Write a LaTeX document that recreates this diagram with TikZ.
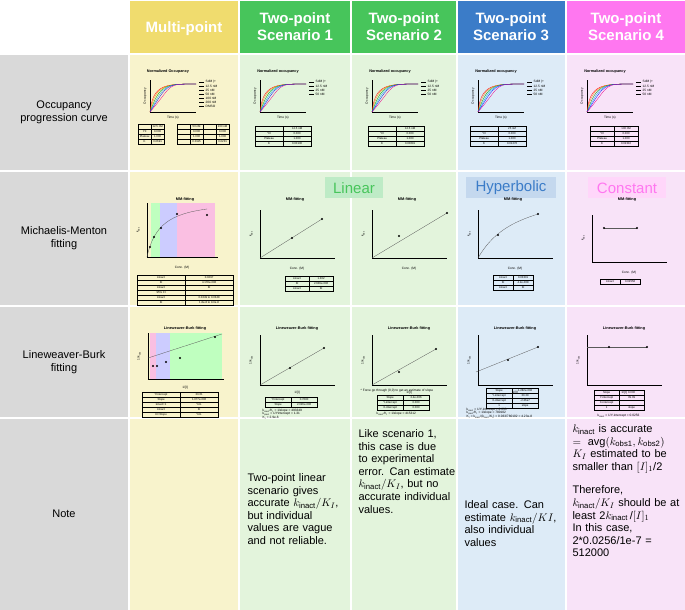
\documentclass[tikz,border=0pt]{standalone}
\usepackage{fontspec}
\setmainfont{Liberation Sans}
\usepackage{amsmath}
\begin{document}
\begin{tikzpicture}[x=1pt,y=-1pt,
  hdr/.style={text=white,font=\bfseries\fontsize{15}{17}\selectfont,align=center},
  lab/.style={font=\fontsize{11}{13}\selectfont,align=center},
  note/.style={font=\fontsize{11}{12.6}\selectfont,align=left,anchor=north west,text width=100pt,execute at begin node={\hyphenpenalty=10000\exhyphenpenalty=10000}},
  tiny/.style={font=\fontsize{3.2}{3.6}\selectfont,inner sep=0.5pt},
  ttl/.style={font=\bfseries\fontsize{3.8}{4}\selectfont,inner sep=0pt},
  ax/.style={line width=0.35pt},
  fit/.style={line width=0.3pt,gray!70!black},
  tc/.style={draw,line width=0.25pt,font=\fontsize{2.8}{3}\selectfont,minimum height=5pt,inner sep=0.3pt,anchor=north west,text depth=0pt,text height=2pt}
]
\definecolor{cY}{HTML}{F0DC6E}\definecolor{cG}{HTML}{47C55B}
\definecolor{cB}{HTML}{3B7CC8}\definecolor{cP}{HTML}{FF77F0}
\definecolor{lY}{HTML}{F8F3CC}\definecolor{lG}{HTML}{E3F4DC}
\definecolor{lB}{HTML}{DDEBF7}\definecolor{lP}{HTML}{F8E3F8}
\definecolor{lGr}{HTML}{D9D9D9}
\newcommand\tbl[4]{\foreach[count=\ti] \ta/\tb in {#4}{%
  \node[tc,minimum width=#3pt] at ({#1},{#2+5*(\ti-1)}) {\ta};
  \node[tc,minimum width=#3pt] at ({#1+#3},{#2+5*(\ti-1)}) {\tb};}}
\useasboundingbox (0,0) rectangle (685,610);
\fill[white] (0,0) rectangle (685,610);
% grid backgrounds
\foreach \x/\w/\h/\l in {130/108/cY/lY,240/110/cG/lG,352/104/cG/lG,458/107/cB/lB,567/118/cP/lP}{
  \fill[\h] (\x,1) rectangle ++(\w,52);
  \foreach \y/\hh in {55/115,172/133,307/110,419/191} \fill[\l] (\x,\y) rectangle ++(\w,\hh);
}
\foreach \y/\hh in {55/115,172/133,307/110,419/191} \fill[lGr] (0,\y) rectangle ++(128,\hh);
% headers
\node[hdr] (h0) at (184,29) {Multi-point};
\node[hdr] (h1) at (295,27) {Two-point\\Scenario 1};
\node[hdr] (h2) at (404,27) {Two-point\\Scenario 2};
\node[hdr] (h3) at (511,27) {Two-point\\Scenario 3};
\node[hdr] (h4) at (626,27) {Two-point\\Scenario 4};
% row labels
\node[lab] (r1) at (64,112) {Occupancy\\progression curve};
\node[lab] (r2) at (64,238) {Michaelis-Menton\\fitting};
\node[lab] (r3) at (64,362) {Lineweaver-Burk\\fitting};
\node[lab] (r4) at (64,514) {Note};
% category labels
\fill[cG!35] (325,177) rectangle (383,198);
\node[text=cG,font=\fontsize{15}{16}\selectfont] (lin) at (354,188) {Linear};
\fill[cB!30] (466,177) rectangle (556,198);
\node[text=cB,font=\fontsize{15}{16}\selectfont] (hyp) at (511,188) {Hyperbolic};
\fill[cP!30] (588,177) rectangle (666,198);
\node[text=cP,font=\fontsize{15}{16}\selectfont] (con) at (627,188) {Constant};
% ---------- Row 1: occupancy ----------
\newcommand\occ[3]{\begin{scope}[shift={(#1,0)}]
 \node[ttl] at (38,72) {#2};
 \draw[ax] (20,80) -- (20,112) -- (66,112);
 \foreach \c/\s in {red/3,orange/6,green!60!black/10,cyan/14,blue/18,magenta/24}{
   \draw[\c,line width=0.3pt] (20,112) .. controls ({20+\s},84) and (35,84) .. (66,84);}
 \node[tiny,rotate=90] at (15,96) {Occupancy};
 \node[tiny] at (43,118) {Time (s)};
 \foreach \oi/\ot in {0/SdM (+/-30),1/12.5 nM,2/25 nM,3/50 nM,4/100 nM,5/200 nM,6/DMSO}{
   \ifnum\oi<#3 \draw[line width=0.3pt] (69,{82+4*\oi}) -- ++(5,0); \node[tiny,anchor=west] at (75,{82+4*\oi}) {\ot};\fi}
 \end{scope}}
\occ{130}{Normalized Occupancy}{7}
\occ{240}{Normalized occupancy}{4}
\occ{352}{Normalized occupancy}{4}
\occ{458}{Normalized occupancy}{4}
\occ{567}{Normalized occupancy}{4}
\tbl{138}{124}{13}{{}/12.5 nM,Y0/0.000,Plateau/1.000,K/0.0691}
\tbl{177}{124}{13}{{}/50 nM,{}/0.000,{}/1.000,{}/0.0115}
\tbl{203}{124}{13}{{}/200 nM,{}/0.000,{}/1.000,{}/0.0231}
\tbl{255}{126}{28}{{}/12.5 nM,Y0/0.000,Plateau/1.000,K/0.00130}
\tbl{368}{126}{28}{{}/12.5 nM,Y0/0.000,Plateau/1.000,K/0.00691}
\tbl{470}{126}{28}{{}/25 nM,Y0/0.000,Plateau/1.000,K/0.01276}
\tbl{590}{126}{24}{{}/100 nM,Y0/0.000,Plateau/1.000,K/0.02310}
% ---------- Row 2: MM ----------
\begin{scope}[shift={(130,0)}]
 \fill[green!25] (21,203) rectangle (30,257);
 \fill[blue!20] (30,203) rectangle (47,257);
 \fill[magenta!25] (47,203) rectangle (85,257);
 \node[ttl] at (55,200) {MM-fitting};
 \draw[ax] (17,203) -- (17,257) -- (88,257);
 \draw[fit] (17,257) .. controls (24,225) and (40,214) .. (77,209);
 \foreach \p in {(20,247),(24,237),(31,228),(47,214),(77,215)} \fill \p circle (1.2);
 \node[tiny,rotate=90] at (8,230) {k$_\text{obs}$};
 \node[tiny] at (52,268) {Conc. (M)};
 \tbl{7}{275}{48}{kinact/0.0297,KI/4.178e-008,kinact/KI/7.1e5,95\% CI/{},kinact/0.0249 to 0.0348,KI/1.8e-8 to 9.0e-8}
\end{scope}
\newcommand\mmlin[5]{\begin{scope}[shift={(#1,0)}]
 \node[ttl] at (55,200) {MM-fitting};
 \draw[ax] (20,210) -- (20,258) -- (95,258);
 \draw[fit] (20,258) -- #2;
 \fill #3 circle (1.2); \fill #4 circle (1.2);
 \node[tiny,rotate=90] at (11,234) {k$_\text{obs}$};
 \node[tiny] at (57,269) {Conc. (M)};
 #5
 \end{scope}}
\mmlin{240}{(82,219)}{(52,238)}{(82,219)}{\tbl{45}{276}{24}{kinact/1.302,KI/2.639e-006,kinact/KI/493492}}
\mmlin{352}{(95,213)}{(47,236)}{(95,213)}{}
\begin{scope}[shift={(458,0)}]
 \node[ttl] at (55,200) {MM-fitting};
 \draw[ax] (20,210) -- (20,258) -- (95,258);
 \draw[fit] (20,258) .. controls (35,232) and (55,222) .. (80,214);
 \fill (40,235) circle (1.2); \fill (80,214) circle (1.2);
 \node[tiny,rotate=90] at (11,234) {k$_\text{obs}$};
 \node[tiny] at (57,269) {Conc. (M)};
 \tbl{35}{275}{20}{kinact/0.03301,KI/4.2e-008,kinact/KI/780102}
\end{scope}
\begin{scope}[shift={(567,0)}]
 \node[ttl] at (60,200) {MM-fitting};
 \draw[ax] (25,215) -- (25,262) -- (100,262);
 \draw[fit] (37,228) -- (70,228);
 \fill (37,228) circle (1.2); \fill (70,228) circle (1.2);
 \node[tiny,rotate=90] at (16,238) {k$_\text{obs}$};
 \node[tiny] at (62,273) {Conc. (M)};
 \tbl{33}{279}{20}{kinact/0.02558}
\end{scope}
% ---------- Row 3: LB ----------
\begin{scope}[shift={(130,0)}]
 \fill[magenta!25] (20,333) rectangle (26,379);
 \fill[blue!20] (26,333) rectangle (40,379);
 \fill[green!25] (40,333) rectangle (92,379);
 \node[ttl] at (55,329) {Lineweaver-Burk fitting};
 \draw[ax] (18,333) -- (18,379) -- (94,379);
 \draw[fit] (18,358) -- (92,334);
 \foreach \p in {(23,366),(27,366),(36,362),(50,358),(85,337)} \fill \p circle (1.2);
 \node[tiny,rotate=90] at (9,356) {1/k$_\text{obs}$};
 \node[tiny] at (55,388) {1/[I]};
 \tbl{12}{392}{38}{YIntercept/33.61,Slope/1.077e-006,kinact=1/Yint./0.0297,kinact/KI/5.6e5,KI=Slope/Yint./7.74e-8}
\end{scope}
\newcommand\lb[5]{\begin{scope}[shift={(#1,0)}]
 \node[ttl] at (57,329) {Lineweaver-Burk fitting};
 \draw[ax] (20,335) -- (20,385) -- (95,385);
 \draw[fit] #2 -- #4;
 \fill #3 circle (1.2); \fill #4 circle (1.2);
 \node[tiny,rotate=90] at (11,360) {1/k$_\text{obs}$};
 \node[tiny] at (57,393) {1/[I]};
 #5
 \end{scope}}
\lb{240}{(20,385)}{(50,368)}{(84,348)}{\tbl{25}{397}{26}{YIntercept/0.7680,Slope/2.026e-006}
 \node[tiny,anchor=west,align=left] at (22,414) {k$_\text{inact}$/K$_\text{I}$ = 1/slope = 493349\\k$_\text{inact}$ = 1/Yintercept = 1.31\\K$_\text{I}$ = 2.9e-6};}
\lb{352}{(20,385)}{(47,372)}{(84,349)}{\tbl{25}{395}{26}{Slope/2.4e-006,Y-intercept/0.000,X-intercept/0.000}
 \node[tiny,anchor=west] at (8,391) {* Force go through (0,0) to get an estimate of slope};
 \node[tiny,anchor=west] at (24,414) {k$_\text{inact}$/K$_\text{I}$ = 1/slope = 415312};}
\lb{458}{(18,372)}{(50,360)}{(80,347)}{\tbl{28}{388}{26}{Slope/1.282e-006,Y-intercept/30.29,X-intercept/-2.36e7,1/slope/780102}
 \node[tiny,anchor=west,align=left] at (8,413) {k$_\text{inact}$ = 1/Y-intercept = 0.033\\k$_\text{inact}$/K$_\text{I}$ = 1/slope = 780102\\K$_\text{I}$ = k$_\text{inact}$/(k$_\text{inact}$/K$_\text{I}$) = 0.033/780102 = 4.23e-8};}
\lb{567}{(20,347)}{(42,347)}{(80,347)}{\tbl{27}{390}{25}{Slope/0.000,Y-intercept/39.09,X-intercept/{},1/slope/{}}
 \node[tiny,anchor=west] at (30,416) {k$_\text{inact}$ = 1/Y-intercept = 0.0256};}
% ---------- Row 4: notes ----------
\node[note] (n1) at (244,470) {Two-point linear scenario gives accurate $k_\text{inact}/K_I$, but individual values are vague and not reliable.};
\node[note] (n2) at (355,426) {Like scenario 1, this case is due to experimental error. Can estimate $k_\text{inact}/K_I$, but no accurate individual values.};
\node[note] (n3) at (461,497) {Ideal case. Can estimate $k_\text{inact}/KI$, also individual values};
\node[note,text width=114pt] (n4) at (569,421) {$k_\text{inact}$ is accurate\\ $=\ \operatorname{avg}(k_\text{obs1},k_\text{obs2})$\\ $K_I$ estimated to be smaller than $[I]_1$/2\\[11pt] Therefore,\\ $k_\text{inact}/K_I$ should be at least 2$k_\text{inact}$\,/$[I]_1$\\ In this case,\\ 2*0.0256/1e-7 =\\ 512000};
\end{tikzpicture}
\end{document}
